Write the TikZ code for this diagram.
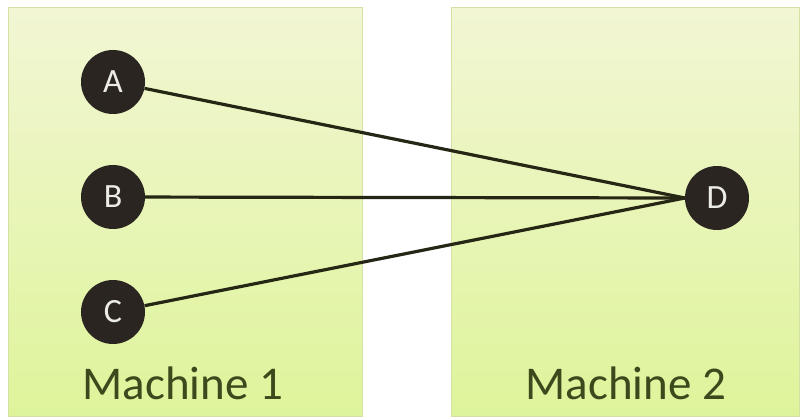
\documentclass[tikz,border=0pt]{standalone}
\usepackage{fontspec}
\setmainfont{Carlito}
\definecolor{boxtop}{HTML}{F2F6D4}
\definecolor{boxbot}{HTML}{DEF49A}
\definecolor{boxedge}{HTML}{D4E1A4}
\definecolor{labelcol}{HTML}{3A4A1C}
\definecolor{nodefill}{HTML}{2A2520}
\definecolor{letter}{HTML}{ECECE4}
\definecolor{wire}{HTML}{262614}
\tikzset{
  machine/.style={draw=boxedge, line width=1pt, top color=boxtop, bottom color=boxbot},
  proc/.style={circle, fill=nodefill, minimum size=64pt, inner sep=0pt,
    text=letter, font=\fontsize{34}{34}\selectfont},
  machinelabel/.style={text=labelcol, font=\fontsize{47}{47}\selectfont, inner sep=0pt},
  wireline/.style={draw=wire, line width=3.2pt}
}
\begin{document}
\begin{tikzpicture}[x=1pt, y=-1pt]
  \useasboundingbox (0,0) rectangle (801,417);
  \fill[white] (0,0) rectangle (801,417);
  % the two machines
  \path[machine] (8,8) rectangle (362,416);
  \path[machine] (451,8) rectangle (799,416);
  \node[machinelabel, anchor=base] (m1) at (183,399) {Machine 1};
  \node[machinelabel, anchor=base] (m2) at (626,399) {Machine 2};
  % processes
  \node[proc] (A) at (113,82) {A};
  \node[proc] (B) at (113,197) {B};
  \node[proc] (C) at (113,312) {C};
  \node[proc] (D) at (717,198) {D};
  % connections, all meeting at the left side of D
  \draw[wireline] (A) -- (D.west);
  \draw[wireline] (B) -- (D.west);
  \draw[wireline] (C) -- (D.west);
\end{tikzpicture}
\end{document}
